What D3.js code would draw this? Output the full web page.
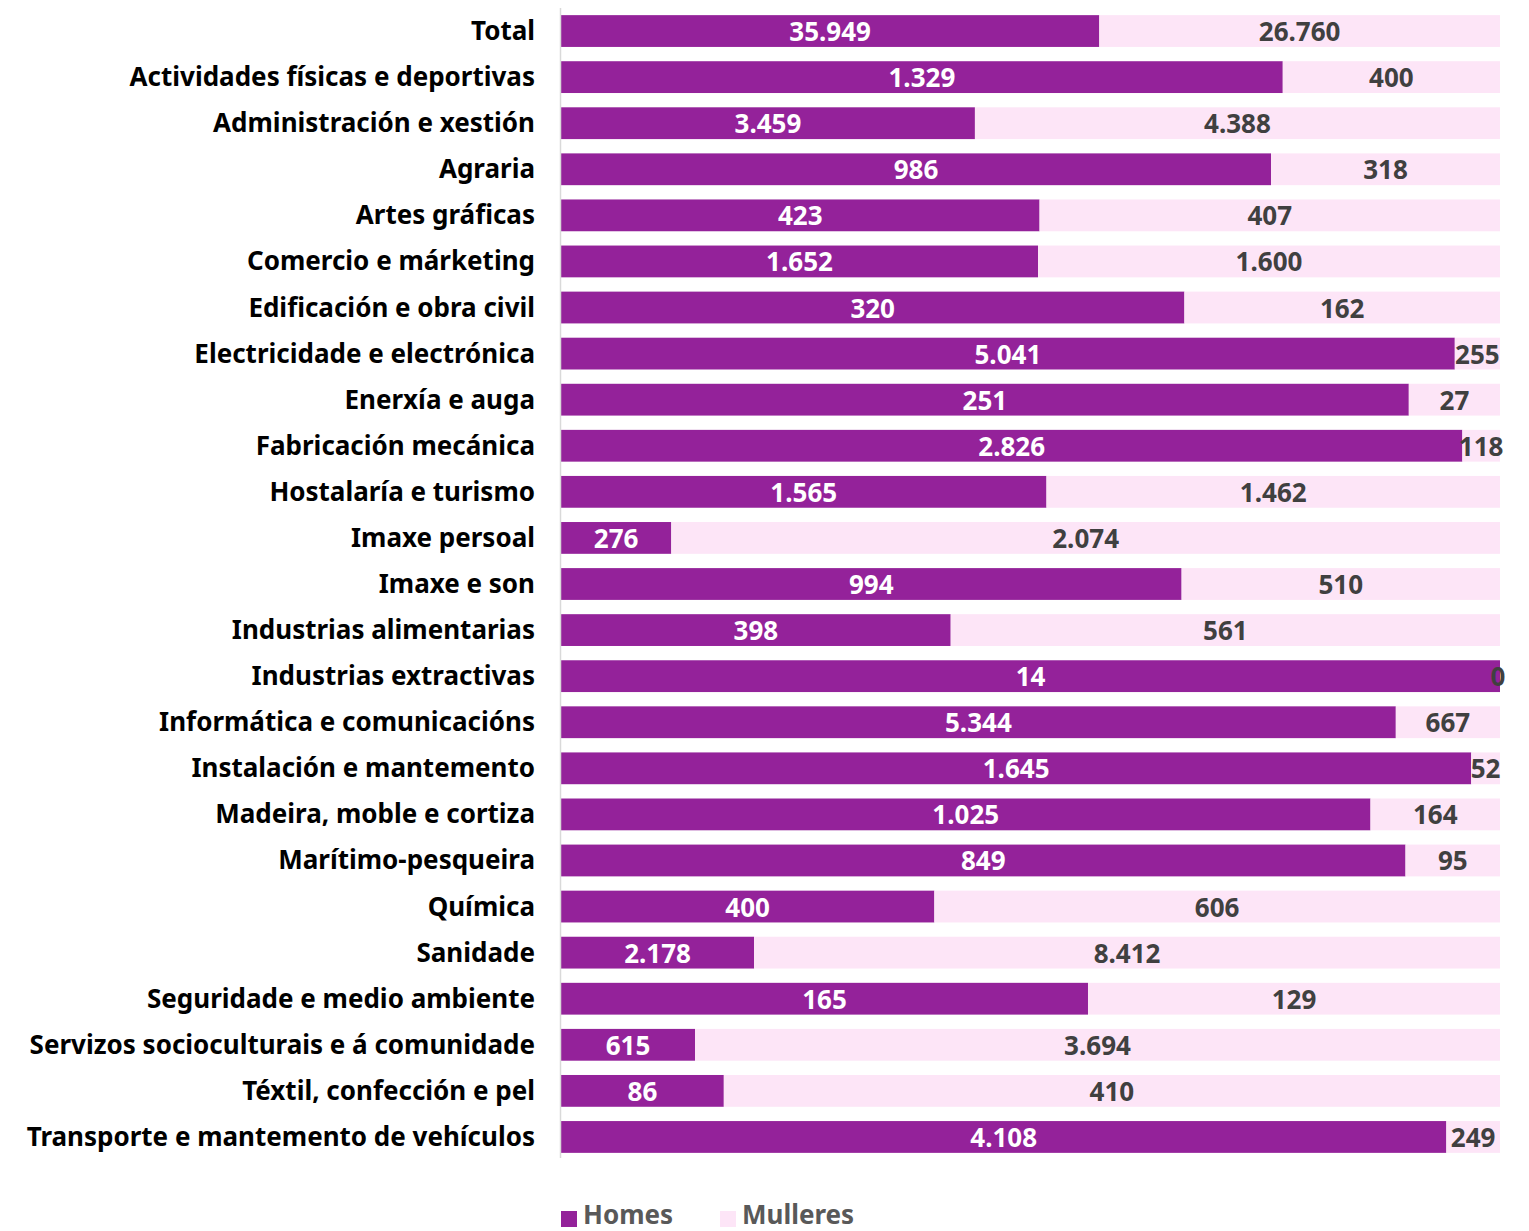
<!DOCTYPE html>
<html><head><meta charset="utf-8">
<script src="https://cdn.jsdelivr.net/npm/d3@7"></script>
<style>body{margin:0;background:#fff}svg{display:block}text{font-family:"Noto Sans","Open Sans",sans-serif;font-weight:700}</style>
</head><body><svg id="c" width="1529" height="1231"></svg>
<script>
const categories = ["Total","Actividades físicas e deportivas","Administración e xestión","Agraria","Artes gráficas","Comercio e márketing","Edificación e obra civil","Electricidade e electrónica","Enerxía e auga","Fabricación mecánica","Hostalaría e turismo","Imaxe persoal","Imaxe e son","Industrias alimentarias","Industrias extractivas","Informática e comunicacións","Instalación e mantemento","Madeira, moble e cortiza","Marítimo-pesqueira","Química","Sanidade","Seguridade e medio ambiente","Servizos socioculturais e á comunidade","Téxtil, confección e pel","Transporte e mantemento de vehículos"];
const homes = [35949,1329,3459,986,423,1652,320,5041,251,2826,1565,276,994,398,14,5344,1645,1025,849,400,2178,165,615,86,4108];
const mulleres = [26760,400,4388,318,407,1600,162,255,27,118,1462,2074,510,561,0,667,52,164,95,606,8412,129,3694,410,249];
const seriesNames = ["Homes","Mulleres"];
const colors = ["#94229a","#fde5f7"];
const labelColors = ["#ffffff","#404040"];

const loc = d3.formatLocale({decimal:",",thousands:".",grouping:[3],currency:["","€"]});
const fmt = loc.format(",d");
const svg = d3.select("#c");
const x = d3.scaleLinear().domain([0,1]).range([561,1500]);
const y = d3.scaleBand().domain(categories).range([8,1160]).paddingInner(0.31).paddingOuter(0.155);

const rows = categories.map((c,i)=>{const t=homes[i]+mulleres[i];return {c,vals:[homes[i],mulleres[i]],t};});

rows.forEach(r=>{
  let acc=0;
  r.vals.forEach((v,k)=>{
    const x0=x(acc/r.t), x1=x((acc+v)/r.t);
    svg.append("rect").attr("x",x0).attr("y",y(r.c)).attr("width",Math.max(0,x1-x0)).attr("height",y.bandwidth()).attr("fill",colors[k]);
    let cx=(x0+x1)/2;
    if(v===0) cx = x(1)-2;
    svg.append("text").attr("x",cx).attr("y",y(r.c)+y.bandwidth()/2).attr("text-anchor","middle").attr("dominant-baseline","central")
      .attr("font-size",26).attr("fill",labelColors[k]).text(fmt(v));
    acc+=v;
  });
});

svg.append("line").attr("x1",560.5).attr("x2",560.5).attr("y1",8).attr("y2",1158).attr("stroke","#d9d9d9").attr("stroke-width",1.5);

svg.append("g").selectAll("text").data(categories).join("text")
  .attr("x",535).attr("y",d=>y(d)+y.bandwidth()/2-1).attr("text-anchor","end").attr("dominant-baseline","central")
  .attr("font-size",26).attr("fill","#000").text(d=>d);

const lg = svg.append("g");
const lx=[561,720];
seriesNames.forEach((s,k)=>{
  lg.append("rect").attr("x",lx[k]).attr("y",1211).attr("width",16).attr("height",16).attr("fill",colors[k]);
  lg.append("text").attr("x",lx[k]+22).attr("y",1214).attr("dominant-baseline","central").attr("font-size",26).attr("fill","#595959").text(s);
});
</script></body></html>
